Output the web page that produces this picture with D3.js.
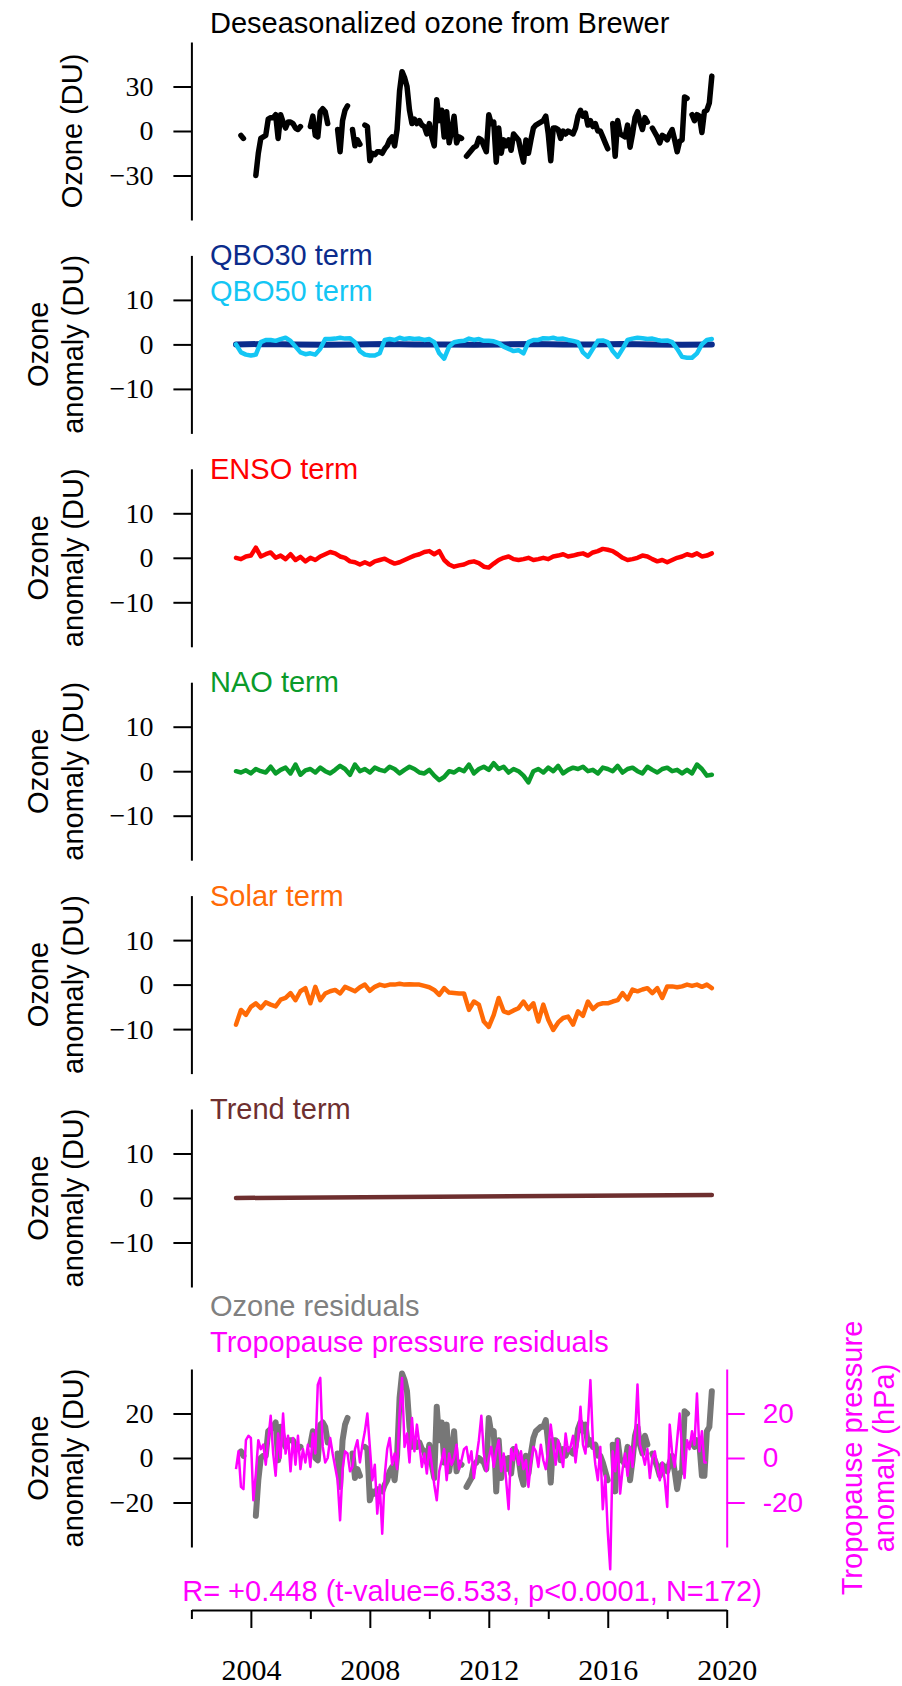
<!DOCTYPE html>
<html>
<head>
<meta charset="utf-8">
<script src="https://cdn.jsdelivr.net/npm/d3@7"></script>
<style>
  body { margin: 0; background: #fff; }
  svg { display: block; }
</style>
</head>
<body>
<div id="chart"></div>
<script>
// ---- data ----
// monthly series start in mid 2003; null = no Brewer data that month
const START = 2003.5;

const ozoneBrewer = [
  null, null, -3, -5, null, null, null, null, -30, -15, -5, -4,
  -3, 8, 9, 9, 11, -5, 11, 6, 2, 6, 6, 5,
  2, 1, 3, null, null, null, 3, 10, -3, -4, 13, 15,
  13, 5, null, null, null, 1, -14, 7, 14, 17, null, 1,
  -10, -6, -9, null, 4, 3, -20, -15, -16, -14, -14, -15,
  -12, -10, -6, -4, -10, 1, 27, 40, 36, 30, 14, 5,
  8, 5, 7, 4, 3, -2, 5, -4, -10, 21, 7, 14,
  -4, 13, -8, 0, 10, -8, -4, -5, null, -17, -15, -13,
  -11, -10, -5, -6, -10, -14, 11, 5, 6, -21, 2, -15,
  -6, -10, -6, -13, -2, -4, -6, -14, -21, -6, -15, -6,
  2, 4, 5, 6, 7, 10, -2, -20, 2, 2, 1, -5,
  0, -2, 0, -1, -2, 2, 10, 14, 10, 12, 4, 7,
  3, 5, 0, 0, -4, -8, -12, null, 5, -17, 7, -2,
  -3, -4, 4, -11, -2, 9, 13, 6, 1, 9, 6, null,
  2, -1, -4, -8, -3, -4, -6, -2, 1, -6, -14, -7,
  -6, 23, 22, null, 11, 7, 11, 10, -1, 13, 14, 19,
  37
];

const ozoneResiduals = [
  null, null, 3, 1, null, null, null, null, -26, -10, 0, 1,
  1, 12, 13, 14, 16, -1, 14, 9, 5, 8, 8, 8,
  5, 4, 5, null, null, null, 6, 12, 0, -1, 15, 16,
  14, 7, null, null, null, 2, -13, 8, 15, 18, null, 2,
  -9, -5, -8, null, 5, 4, -19, -15, -16, -14, -14, -15,
  -12, -10, -6, -4, -10, 1, 27, 38, 35, 30, 14, 5,
  8, 5, 7, 4, 3, -2, 6, -3, -9, 23, 8, 16,
  -2, 15, -6, 2, 12, -6, -2, -3, null, -13, -11, -9,
  -3, -2, 0, -1, -2, -5, 18, 11, 12, -15, 8, -9,
  0, -5, 0, -7, 4, 3, 0, -8, -12, 1, -7, 2,
  9, 12, 13, 14, 14, 17, 6, -11, 8, 8, 6, -1,
  4, 1, 4, 3, 2, 5, 13, 16, 12, 15, 6, 8,
  5, 6, 1, 1, -2, -6, -10, null, 6, -15, 8, -1,
  -1, -3, 5, -10, -1, 10, 14, 6, 2, 10, 6, null,
  2, -1, -4, -8, -3, -4, -6, -2, 1, -6, -14, -7,
  -6, 21, 20, null, 7, 5, 8, 6, -8, -8, 12, 14,
  30
];

const tropopauseResiduals = [
  -5, 3, -13, -14, 8, 10, 9, -19, -7, 8, 4, 6,
  -3, 8, 19, 2, -8, 11, 0, 20, 2, 10, -6, 9,
  -3, 10, -5, 4, -2, 6, -4, 11, 2, 33, 36, 5,
  -2, 0, 9, 2, -4, -10, -28, -5, 3, 2, -6, -4,
  4, 8, -2, 6, 12, 20, 5, -10, -3, -25, -12, -34,
  -8, 4, 9, -3, 2, -5, 20, 36, 5, 11, -2, 18,
  3, 15, 6, -4, 2, -7, 5, -3, -12, -19, -6, -1,
  4, -10, 2, -3, 0, 6, -5, -1, 4, 5, -2, 3,
  -9, 0, 8, 19, 2, -6, 0, 5, -4, 3, 8, -6,
  2, -10, -23, 4, -1, 6, -3, 3, -5, -1, -13, -2,
  5, 3, -4, 6, -1, -5, 4, 15, 6, -3, 8, 2,
  -4, 11, 3, 5, 10, -2, 8, 23, 6, 2, 15, 35,
  8, -3, -10, 5, -23, -8, -33, -50, 3, -6, 8, -16,
  -5, 2, -8, 5, -4, 10, 33, 6, 2, -3, 4, -9,
  0, 3, -4, -10, -2, -10, -22, 15, 2, -4, 8, 20,
  3, -9, 8, 4, 12, 6, 29, 3, 12, -2, -2
];

// two-monthly series, one row per year from mid 2003
const qbo50Term = [
  0, -1.8, -2.3, -2.5, -2.3, 0.5,
  1, 1, 0.8, 1.2, 1.5, 0.8,
  -0.5, -1.8, -2.2, -2, -2.3, -1,
  1.2, 1.2, 1.3, 1.5, 1.3, 1.4,
  0.5, -1.5, -2.3, -2.5, -2.5, -2,
  1, 1.2, 1, 1.5, 1.2, 1.4,
  1.2, 1.3, 1, 1.2, 0.5, -2,
  -3.2, -0.5, 0.5, 0.7, 0.8, 1.3,
  1, 1.2, 0.8, 0.8, 0.7, 0.3,
  -0.5, -1, -1.5, -1.3, -2, 0.5,
  1, 1, 1.4, 1.3, 1.5, 1.2,
  1.3, 1, 0.8, 0.5, -1.8, -2.8,
  -1, 0.8, 0.9, 0.5, -1.5, -2.8,
  -1, 1, 1.3, 1.5, 1.4, 1.2,
  1.3, 1, 0.8, 0.9, 0.5, -1,
  -2.8, -3, -3, -2, 0, 1,
  1.2
];

const ensoTerm = [
  0, -0.3, 0.3, 0.5, 2.3, 0.3,
  0.8, 1.2, 0, 0.5, -0.3, 0.8,
  -0.5, 0.2, -0.8, 0, -0.5, 0.3,
  0.8, 1.3, 1, 0.3, 0, -0.8,
  -1, -1.5, -1, -1.5, -0.8, -0.5,
  -0.2, -0.8, -1.3, -1, -0.5, 0,
  0.5, 0.8, 1.3, 1.5, 0.8, 1.5,
  -0.5, -1.5, -2, -1.7, -1.5, -1,
  -0.8, -1.2, -2, -2.2, -1.3, -0.5,
  0, 0.3, -0.3, -0.5, -0.3, 0,
  -0.5, -0.3, 0, -0.3, 0.3, 0.5,
  0.8, 0.3, 0.5, 0.8, 1, 0.5,
  1.2, 1.5, 2, 1.8, 1.5, 0.8,
  0, -0.5, -0.3, 0, 0.5, 0.3,
  -0.3, -0.8, -0.5, -1, -0.5, 0,
  0.3, 0.8, 0.5, 1, 0.3, 0.5,
  1
];

const naoTerm = [
  0, -0.3, 0.2, -0.5, 0.5, 0,
  -0.3, 1, -0.5, 0.3, 0.8, -0.5,
  1.5, -0.8, 0.2, 0.5, -0.3, 0.8,
  0, -0.5, 0.3, 1.2, 0.5, -0.8,
  1.5, 0, 0.5, -0.3, 0.8, 0.3,
  0, 1, 0.5, -0.5, 0.3, 1,
  0.5, -0.3, -0.5, 0.3, -1, -2,
  -1.3, 0, -0.3, 0.5, 0, 1.5,
  -0.5, 0.5, 1, 0.3, 1.8, 0.5,
  1, -0.3, 0.5, 0, -1, -2.5,
  0, 0.5, -0.3, 0.8, 0, 1.2,
  -0.5, 0.3, 0.8, 0.5, 1, 0,
  0.3, -0.5, 0.8, 0.5, 0, 1.2,
  -0.3, 0.5, 0.8, 0, -0.5, 1,
  0.3, -0.3, 0.5, 0.8, 0, 0.3,
  -0.5, 0.3, -0.5, 1.5, 0.5, -1,
  -0.8
];

const solarTerm = [
  -9, -5.7, -6.8, -5, -4.2, -5.3,
  -4, -4.5, -4.9, -3.4, -3, -1.9,
  -3.5, -1.5, -0.8, -4.2, -0.5, -3.5,
  -2, -1.5, -1.2, -2, -0.5, -1,
  -1.5, -0.6, 0, -1.4, -0.5, 0,
  -0.3, 0, 0, 0.2, 0, 0.1,
  0, 0, -0.3, -0.6, -1.2, -2.3,
  -0.8, -1.8, -1.9, -2, -2, -5.7,
  -3.8, -4.5, -8.3, -9.5, -6.8, -3,
  -6, -6.4, -5.8, -5.3, -3.8, -5.5,
  -4.2, -8.3, -4.5, -7.9, -10.2, -8.5,
  -7.5, -7.2, -9, -6, -7, -3.8,
  -5.5, -4.5, -4.2, -4.2, -3.8, -3.5,
  -1.9, -3.3, -1.1, -1.5, -1.1, -0.8,
  -1.9, -0.8, -3, -0.4, -0.4, -0.6,
  -0.4, 0, -0.3, 0, -0.5, 0,
  -0.8
];

// yearly samples (nearly flat terms)
const qbo30Term = [0, 0.1, 0, -0.1, 0, 0.1, 0, 0, -0.1, 0, 0.1, 0, 0, 0.1, 0, -0.1, 0];
const trendYears = [2003.5, 2019.5];
const trendTerm = [0, 0.7];

const yearTicks = [2002, 2004, 2006, 2008, 2010, 2012, 2014, 2016, 2018, 2020];
const statsText = "R= +0.448 (t-value=6.533, p<0.0001, N=172)";

// ---- layout ----
const WIDTH = 902, HEIGHT = 1686;
const SERIF = "'Liberation Serif', 'Times New Roman', serif";
const SANS = "'Liberation Sans', Arial, sans-serif";
const MAGENTA = "#ff00ff";

const svg = d3.select("#chart").append("svg")
  .attr("width", WIDTH)
  .attr("height", HEIGHT)
  .style("background", "#fff");

const x = d3.scaleLinear().domain([2002, 2020]).range([191.4, 726.7]);

const monthly = vals => vals.map((v, i) => ({ t: START + i / 12, v }));
const bimonthly = vals => vals.map((v, i) => ({ t: START + i / 6, v }));
const yearly = vals => vals.map((v, i) => ({ t: START + i, v }));

const panels = [
  {
    center: 131, domain: [-60, 60], ticks: [-30, 0, 30],
    ylabel: ["Ozone (DU)"],
    series: [{ data: monthly(ozoneBrewer), color: "#000", width: 5.5 }],
    legend: []
  },
  {
    center: 344.4, domain: [-20, 20], ticks: [-10, 0, 10],
    ylabel: ["Ozone", "anomaly (DU)"],
    series: [
      { data: yearly(qbo30Term), color: "#0b2c8c", width: 6 },
      { data: bimonthly(qbo50Term), color: "#14c6f4", width: 4.5 }
    ],
    legend: [["QBO30 term", "#0b2c8c"], ["QBO50 term", "#14c6f4"]]
  },
  {
    center: 557.8, domain: [-20, 20], ticks: [-10, 0, 10],
    ylabel: ["Ozone", "anomaly (DU)"],
    series: [{ data: bimonthly(ensoTerm), color: "#ff0000", width: 4.5 }],
    legend: [["ENSO term", "#ff0000"]]
  },
  {
    center: 771.2, domain: [-20, 20], ticks: [-10, 0, 10],
    ylabel: ["Ozone", "anomaly (DU)"],
    series: [{ data: bimonthly(naoTerm), color: "#0a9b2a", width: 4.5 }],
    legend: [["NAO term", "#0a9b2a"]]
  },
  {
    center: 984.6, domain: [-20, 20], ticks: [-10, 0, 10],
    ylabel: ["Ozone", "anomaly (DU)"],
    series: [{ data: bimonthly(solarTerm), color: "#ff6a06", width: 4.5 }],
    legend: [["Solar term", "#ff6a06"]]
  },
  {
    center: 1198, domain: [-20, 20], ticks: [-10, 0, 10],
    ylabel: ["Ozone", "anomaly (DU)"],
    series: [{ data: trendYears.map((t, i) => ({ t, v: trendTerm[i] })), color: "#6e2f2f", width: 4.5 }],
    legend: [["Trend term", "#6e2f2f"]]
  },
  {
    center: 1458, domain: [-40, 40], ticks: [-20, 0, 20],
    ylabel: ["Ozone", "anomaly (DU)"],
    series: [{ data: monthly(ozoneResiduals), color: "#777777", width: 6 }],
    legend: []
  }
];
const HALF = 89;

// title of the top panel
svg.append("text")
  .attr("x", 210).attr("y", 33)
  .style("font-family", SANS).style("font-size", "29px")
  .text("Deseasonalized ozone from Brewer");

panels.forEach(p => {
  const y = d3.scaleLinear().domain(p.domain).range([p.center + HALF, p.center - HALF]);
  p.y = y;

  // left axis
  const ax = svg.append("g")
    .attr("transform", `translate(${x(2002)},0)`)
    .call(d3.axisLeft(y).tickValues(p.ticks).tickSize(18).tickSizeOuter(0).tickPadding(20));
  ax.selectAll("path, line").attr("stroke", "#000").attr("stroke-width", 2);
  ax.selectAll("text")
    .style("font-family", SERIF).style("font-size", "28px").attr("fill", "#000");

  // rotated y label
  const xs = p.ylabel.length === 1 ? [72] : [38, 73];
  p.ylabel.forEach((txt, i) => {
    svg.append("text")
      .attr("transform", `translate(${xs[i]},${p.center}) rotate(-90)`)
      .attr("text-anchor", "middle")
      .attr("dominant-baseline", "central")
      .style("font-family", SANS).style("font-size", "29px")
      .text(txt);
  });

  // legend text above the axis
  p.legend.forEach(([txt, col], i) => {
    svg.append("text")
      .attr("x", 210).attr("y", p.center - HALF + 10 + i * 36)
      .attr("fill", col)
      .style("font-family", SANS).style("font-size", "29px")
      .text(txt);
  });

  // lines
  const line = d3.line()
    .defined(d => d.v !== null)
    .x(d => x(d.t))
    .y(d => y(d.v));
  p.series.forEach(s => {
    svg.append("path")
      .datum(s.data)
      .attr("d", line)
      .attr("fill", "none")
      .attr("stroke", s.color)
      .attr("stroke-width", s.width)
      .attr("stroke-linejoin", "round")
      .attr("stroke-linecap", "round");
  });
});

// ---- bottom panel extras: tropopause pressure on the right axis ----
const bottom = panels[panels.length - 1];
const yP = d3.scaleLinear().domain([-40, 40]).range([bottom.center + HALF, bottom.center - HALF]);

svg.append("path")
  .datum(monthly(tropopauseResiduals))
  .attr("d", d3.line().x(d => x(d.t)).y(d => yP(d.v)))
  .attr("fill", "none")
  .attr("stroke", MAGENTA)
  .attr("stroke-width", 2.5)
  .attr("stroke-linejoin", "round");

const rax = svg.append("g")
  .attr("transform", `translate(${x(2020)},0)`)
  .call(d3.axisRight(yP).tickValues([-20, 0, 20]).tickSize(18).tickSizeOuter(0)
    .tickPadding(18).tickFormat(d => String(d)));
rax.selectAll("path, line").attr("stroke", MAGENTA).attr("stroke-width", 2);
rax.selectAll("text")
  .attr("fill", MAGENTA)
  .style("font-family", SANS).style("font-size", "28px");

["Tropopause pressure", "anomaly (hPa)"].forEach((txt, i) => {
  svg.append("text")
    .attr("transform", `translate(${[852, 884][i]},${bottom.center}) rotate(-90)`)
    .attr("text-anchor", "middle")
    .attr("dominant-baseline", "central")
    .attr("fill", MAGENTA)
    .style("font-family", SANS).style("font-size", "29px")
    .text(txt);
});

svg.append("text")
  .attr("x", 210).attr("y", 1316)
  .attr("fill", "#808080")
  .style("font-family", SANS).style("font-size", "29px")
  .text("Ozone residuals");
svg.append("text")
  .attr("x", 210).attr("y", 1352)
  .attr("fill", MAGENTA)
  .style("font-family", SANS).style("font-size", "29px")
  .text("Tropopause pressure residuals");

svg.append("text")
  .attr("x", 472).attr("y", 1601)
  .attr("text-anchor", "middle")
  .attr("fill", MAGENTA)
  .style("font-family", SANS).style("font-size", "29px")
  .text(statsText);

// ---- shared time axis ----
const xax = svg.append("g")
  .attr("transform", "translate(0,1610)")
  .call(d3.axisBottom(x).tickValues(yearTicks).tickSize(18).tickSizeOuter(0)
    .tickFormat(d => d % 4 === 0 ? String(d) : ""));
xax.selectAll("path, line").attr("stroke", "#000").attr("stroke-width", 2);
xax.selectAll(".tick line").attr("y2", d => d % 4 === 0 ? 18 : 9);
xax.selectAll("text")
  .attr("y", 70).attr("dy", 0)
  .attr("fill", "#000")
  .style("font-family", SERIF).style("font-size", "30px");
</script>
</body>
</html>
